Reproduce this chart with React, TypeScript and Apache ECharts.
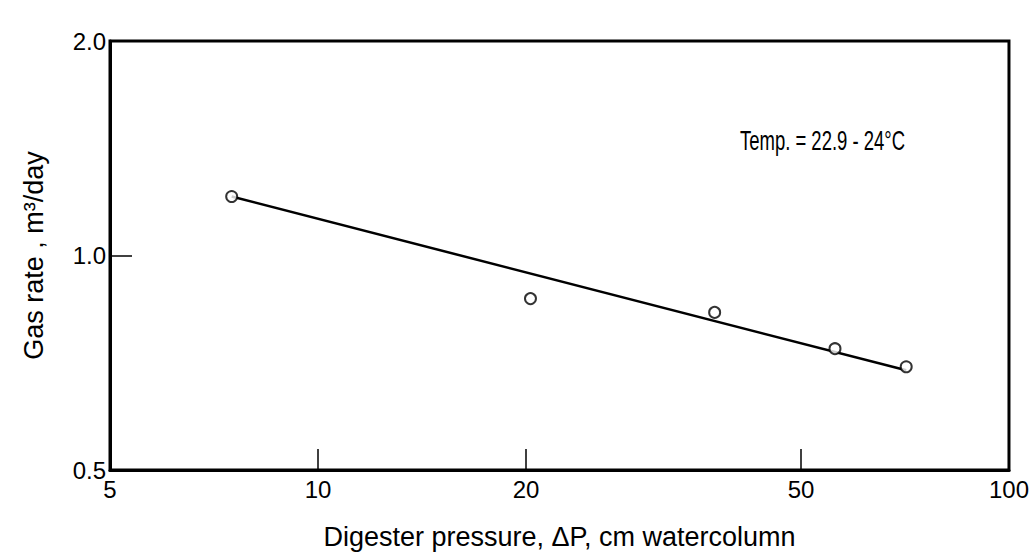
import React, { useEffect, useRef } from "react";
import * as echarts from "echarts";

const pressure = [7.5, 20.3, 37.5, 56, 71];
const gasRate = [1.21, 0.87, 0.832, 0.74, 0.698];
const fitLine = [
  [7.5, 1.21],
  [71, 0.69],
];
const xLabelValues = [5, 10, 20, 50, 100];
const xTickValues = [10, 20, 50];
const yLabelValues = [0.5, 1.0, 2.0];
const yTickValues = [1.0];
const note = "Temp. = 22.9 - 24°C";

export default function App() {
  const ref = useRef<HTMLDivElement>(null);
  useEffect(() => {
    if (!ref.current) return;
    const chart = echarts.init(ref.current, null, { renderer: "svg" });
    const font = "Liberation Sans";
    chart.setOption({
      animation: false,
      backgroundColor: "#fff",
      grid: {
        left: 110,
        right: 13,
        top: 41,
        bottom: 90,
        show: true,
        borderColor: "#000",
        borderWidth: 3,
        backgroundColor: "transparent",
      },
      xAxis: {
        type: "log",
        logBase: 10,
        min: 5,
        max: 100,
        name: "Digester pressure, ΔP, cm watercolumn",
        nameLocation: "middle",
        nameGap: 53,
        nameTextStyle: { fontFamily: font, fontSize: 27, color: "#000" },
        axisLine: { show: true, lineStyle: { color: "#000", width: 3 } },
        axisTick: {
          show: true,
          inside: true,
          length: 21,
          customValues: xTickValues,
          lineStyle: { color: "#000", width: 1.5 },
        },
        minorTick: { show: false },
        splitLine: { show: false },
        axisLabel: {
          customValues: xLabelValues,
          fontFamily: font,
          fontSize: 24,
          color: "#000",
          margin: 7,
          formatter: (v: number) => String(Math.round(v)),
        },
      },
      yAxis: {
        type: "log",
        logBase: 10,
        min: 0.5,
        max: 2,
        name: "Gas rate , m³/day",
        nameLocation: "middle",
        nameGap: 63,
        nameTextStyle: { fontFamily: font, fontSize: 27, color: "#000" },
        axisLine: { show: true, lineStyle: { color: "#000", width: 3 } },
        axisTick: {
          show: true,
          inside: true,
          length: 22,
          customValues: yTickValues,
          lineStyle: { color: "#000", width: 1.5 },
        },
        minorTick: { show: false },
        splitLine: { show: false },
        axisLabel: {
          customValues: yLabelValues,
          fontFamily: font,
          fontSize: 24,
          color: "#000",
          margin: 4,
          padding: [0, 0, 12, 0],
          formatter: (v: number) => v.toFixed(1),
        },
      },
      graphic: [
        {
          type: "text",
          x: 740,
          y: 141,
          scaleX: 0.66,
          style: {
            text: note,
            fontFamily: font,
            fontSize: 28,
            fill: "#000",
            verticalAlign: "middle",
            align: "left",
          },
        },
      ],
      series: [
        {
          type: "line",
          data: fitLine,
          symbol: "none",
          lineStyle: { color: "#000", width: 2.5 },
          z: 2,
        },
        {
          type: "scatter",
          data: pressure.map((p, i) => [p, gasRate[i]]),
          symbol: "circle",
          symbolSize: 11,
          itemStyle: { color: "#fff", borderColor: "#000", borderWidth: 2 },
          z: 3,
        },
      ],
    });
    return () => chart.dispose();
  }, []);
  return (
    <div
      ref={ref}
      style={{ position: "fixed", left: 0, top: 0, width: 1032, height: 560, background: "#fff" }}
    />
  );
}
